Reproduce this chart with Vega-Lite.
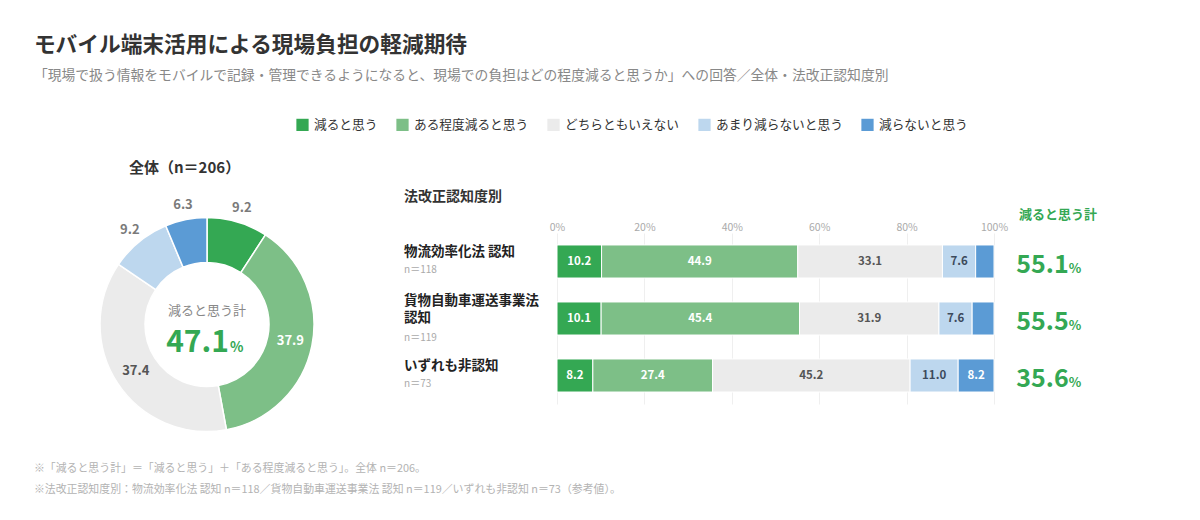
{
  "$schema": "https://vega.github.io/schema/vega-lite/v6.json",
  "background": "white",
  "padding": {"left": 33, "top": 34, "right": 10, "bottom": 10},
  "title": {
    "text": "モバイル端末活用による現場負担の軽減期待",
    "subtitle": "「現場で扱う情報をモバイルで記録・管理できるようになると、現場での負担はどの程度減ると思うか」への回答／全体・法改正認知度別",
    "anchor": "start",
    "frame": "bounds",
    "font": "Noto Sans CJK JP",
    "fontSize": 21.7,
    "fontWeight": "bold",
    "color": "#333333",
    "subtitleFont": "Noto Sans CJK JP",
    "subtitleFontSize": 13.8,
    "subtitleColor": "#888888",
    "subtitlePadding": 13,
    "offset": 35
  },
  "datasets": {
    "donut": [
      {"cat": "減ると思う", "value": 9.2, "order": 1},
      {"cat": "ある程度減ると思う", "value": 37.9, "order": 2},
      {"cat": "どちらともいえない", "value": 37.4, "order": 3},
      {"cat": "あまり減らないと思う", "value": 9.2, "order": 4},
      {"cat": "減らないと思う", "value": 6.3, "order": 5}
    ],
    "summary": [
      {"title": "全体（n＝206）", "label": "減ると思う計", "total": 47.1}
    ],
    "bars": [
      {"group": "物流効率化法 認知", "cat": "減ると思う", "value": 10.2, "order": 1},
      {"group": "物流効率化法 認知", "cat": "ある程度減ると思う", "value": 44.9, "order": 2},
      {"group": "物流効率化法 認知", "cat": "どちらともいえない", "value": 33.1, "order": 3},
      {"group": "物流効率化法 認知", "cat": "あまり減らないと思う", "value": 7.6, "order": 4},
      {"group": "物流効率化法 認知", "cat": "減らないと思う", "value": 4.2, "order": 5},
      {"group": "貨物自動車運送事業法 認知", "cat": "減ると思う", "value": 10.1, "order": 1},
      {"group": "貨物自動車運送事業法 認知", "cat": "ある程度減ると思う", "value": 45.4, "order": 2},
      {"group": "貨物自動車運送事業法 認知", "cat": "どちらともいえない", "value": 31.9, "order": 3},
      {"group": "貨物自動車運送事業法 認知", "cat": "あまり減らないと思う", "value": 7.6, "order": 4},
      {"group": "貨物自動車運送事業法 認知", "cat": "減らないと思う", "value": 5.0, "order": 5},
      {"group": "いずれも非認知", "cat": "減ると思う", "value": 8.2, "order": 1},
      {"group": "いずれも非認知", "cat": "ある程度減ると思う", "value": 27.4, "order": 2},
      {"group": "いずれも非認知", "cat": "どちらともいえない", "value": 45.2, "order": 3},
      {"group": "いずれも非認知", "cat": "あまり減らないと思う", "value": 11.0, "order": 4},
      {"group": "いずれも非認知", "cat": "減らないと思う", "value": 8.2, "order": 5}
    ],
    "groups": [
      {"group": "物流効率化法 認知", "label": "物流効率化法 認知", "label2": "", "n": "n＝118", "total": 55.1},
      {"group": "貨物自動車運送事業法 認知", "label": "貨物自動車運送事業法", "label2": "認知", "n": "n＝119", "total": 55.5},
      {"group": "いずれも非認知", "label": "いずれも非認知", "label2": "", "n": "n＝73", "total": 35.6}
    ],
    "notes": [
      {"heading": "法改正認知度別", "totalHeading": "減ると思う計",
       "note1": "※「減ると思う計」＝「減ると思う」＋「ある程度減ると思う」。全体 n＝206。",
       "note2": "※法改正認知度別：物流効率化法 認知 n＝118／貨物自動車運送事業法 認知 n＝119／いずれも非認知 n＝73（参考値）。"}
    ]
  },
  "bounds": "flush",
  "spacing": 230,
  "hconcat": [
    {
      "width": 240,
      "height": 183,
      "layer": [
        {
          "data": {"name": "donut"},
          "mark": {"type": "arc", "outerRadius": 107, "innerRadius": 62, "stroke": "white", "strokeWidth": 1.5},
          "encoding": {
            "theta": {"field": "value", "type": "quantitative", "stack": true},
            "order": {"field": "order", "type": "quantitative"},
            "color": {
              "field": "cat",
              "type": "nominal",
              "scale": {
                "domain": ["減ると思う", "ある程度減ると思う", "どちらともいえない", "あまり減らないと思う", "減らないと思う"],
                "range": ["#34a853", "#7dbf87", "#ebebeb", "#bdd7ee", "#5b9bd5"]
              },
              "legend": {
                "orient": "none",
                "legendX": 209,
                "legendY": -115,
                "direction": "horizontal",
                "title": null,
                "symbolType": "square",
                "symbolSize": 150,
                "symbolStrokeWidth": 0,
                "labelFont": "Noto Sans CJK JP",
                "labelFontSize": 12.7,
                "labelColor": "#333333",
                "labelOffset": 5,
                "columnPadding": 18
              }
            }
          }
        },
        {
          "data": {"name": "donut"},
          "mark": {"type": "text", "radius": 85, "font": "Noto Sans CJK JP", "fontSize": 13, "fontWeight": "bold"},
          "encoding": {
            "theta": {"field": "value", "type": "quantitative", "stack": true},
            "order": {"field": "order", "type": "quantitative"},
            "text": {"condition": {"test": "datum.value > 20", "field": "value", "format": ".1f"}, "value": ""},
            "color": {"condition": {"test": "datum.cat === 'ある程度減ると思う'", "value": "white"}, "value": "#555555"}
          }
        },
        {
          "data": {"name": "donut"},
          "mark": {"type": "text", "radius": 122, "font": "Noto Sans CJK JP", "fontSize": 13, "fontWeight": "bold", "color": "#7a7a7a"},
          "encoding": {
            "theta": {"field": "value", "type": "quantitative", "stack": true},
            "order": {"field": "order", "type": "quantitative"},
            "text": {"condition": {"test": "datum.value <= 20", "field": "value", "format": ".1f"}, "value": ""}
          }
        },
        {
          "data": {"name": "summary"},
          "mark": {"type": "text", "align": "left", "baseline": "middle", "dx": -78, "dy": -157, "font": "Noto Sans CJK JP", "fontSize": 15, "fontWeight": "bold", "color": "#333333"},
          "encoding": {"text": {"field": "title"}}
        },
        {
          "data": {"name": "summary"},
          "mark": {"type": "text", "align": "center", "baseline": "middle", "dy": -14, "font": "Noto Sans CJK JP", "fontSize": 13, "color": "#888888"},
          "encoding": {"text": {"field": "label"}}
        },
        {
          "data": {"name": "summary"},
          "mark": {"type": "text", "align": "right", "baseline": "alphabetic", "dx": 22, "dy": 27, "font": "Noto Sans CJK JP", "fontSize": 30, "fontWeight": "bold", "color": "#34a853"},
          "encoding": {"text": {"field": "total", "format": ".1f"}}
        },
        {
          "data": {"name": "summary"},
          "mark": {"type": "text", "align": "left", "baseline": "alphabetic", "dx": 23, "dy": 27, "font": "Noto Sans CJK JP", "fontSize": 14, "fontWeight": "bold", "color": "#34a853", "text": "%"},
          "encoding": {}
        }
      ]
    },
    {
      "width": 437,
      "height": 171,
      "layer": [
        {
          "data": {"name": "bars"},
          "transform": [
            {"stack": "value", "groupby": ["group"], "sort": [{"field": "order", "order": "ascending"}], "as": ["x0", "x1"]}
          ],
          "mark": {"type": "bar", "stroke": "white", "strokeWidth": 1},
          "encoding": {
            "y": {
              "field": "group",
              "type": "nominal",
              "scale": {"domain": ["物流効率化法 認知", "貨物自動車運送事業法 認知", "いずれも非認知"], "paddingInner": 0.42, "paddingOuter": 0.21},
              "axis": null
            },
            "x": {
              "field": "x0",
              "type": "quantitative",
              "scale": {"domain": [0, 100], "nice": false},
              "axis": {
                "orient": "top",
                "title": null,
                "values": [0, 20, 40, 60, 80, 100],
                "labelExpr": "datum.value + '%'",
                "labelFlush": false,
                "domain": false,
                "ticks": false,
                "labelFont": "Noto Sans CJK JP",
                "labelFontSize": 10.5,
                "labelColor": "#aaaaaa",
                "labelPadding": 1,
                "grid": true,
                "gridColor": "#efefef"
              }
            },
            "x2": {"field": "x1"},
            "color": {"field": "cat", "type": "nominal"}
          }
        },
        {
          "data": {"name": "bars"},
          "transform": [
            {"stack": "value", "groupby": ["group"], "sort": [{"field": "order", "order": "ascending"}], "as": ["x0", "x1"]},
            {"calculate": "(datum.x0 + datum.x1) / 2", "as": "xm"},
            {"filter": "datum.value >= 6"}
          ],
          "mark": {"type": "text", "font": "Noto Sans CJK JP", "fontSize": 11.5, "fontWeight": "bold", "baseline": "middle"},
          "encoding": {
            "y": {"field": "group", "type": "nominal"},
            "x": {"field": "xm", "type": "quantitative"},
            "text": {"field": "value", "type": "quantitative", "format": ".1f"},
            "color": {
              "condition": [
                {"test": "datum.cat === 'どちらともいえない'", "value": "#555555"},
                {"test": "datum.cat === 'あまり減らないと思う'", "value": "#3c4a5c"}
              ],
              "value": "white"
            }
          }
        },
        {
          "data": {"name": "groups"},
          "mark": {"type": "text", "align": "left", "baseline": "middle", "dy": {"expr": "datum.label2 ? -18 : -10"}, "font": "Noto Sans CJK JP", "fontSize": 13.5, "fontWeight": "bold", "color": "#222222"},
          "encoding": {
            "y": {"field": "group", "type": "nominal"},
            "x": {"datum": -35, "type": "quantitative"},
            "text": {"field": "label"}
          }
        },
        {
          "data": {"name": "groups"},
          "mark": {"type": "text", "align": "left", "baseline": "middle", "dy": -0.5, "font": "Noto Sans CJK JP", "fontSize": 13.5, "fontWeight": "bold", "color": "#222222"},
          "encoding": {
            "y": {"field": "group", "type": "nominal"},
            "x": {"datum": -35, "type": "quantitative"},
            "text": {"field": "label2"}
          }
        },
        {
          "data": {"name": "groups"},
          "mark": {"type": "text", "align": "left", "baseline": "middle", "dy": {"expr": "datum.label2 ? 19.5 : 8.5"}, "font": "Noto Sans CJK JP", "fontSize": 10, "color": "#aaaaaa"},
          "encoding": {
            "y": {"field": "group", "type": "nominal"},
            "x": {"datum": -35, "type": "quantitative"},
            "text": {"field": "n"}
          }
        },
        {
          "data": {"name": "groups"},
          "mark": {"type": "text", "align": "right", "baseline": "alphabetic", "dy": 11, "font": "Noto Sans CJK JP", "fontSize": 25, "fontWeight": "bold", "color": "#34a853"},
          "encoding": {
            "y": {"field": "group", "type": "nominal"},
            "x": {"datum": 117.1, "type": "quantitative"},
            "text": {"field": "total", "type": "quantitative", "format": ".1f"}
          }
        },
        {
          "data": {"name": "groups"},
          "mark": {"type": "text", "align": "left", "baseline": "alphabetic", "dy": 11, "font": "Noto Sans CJK JP", "fontSize": 13, "fontWeight": "bold", "color": "#34a853", "text": "%"},
          "encoding": {
            "y": {"field": "group", "type": "nominal"},
            "x": {"datum": 117.1, "type": "quantitative"}
          }
        },
        {
          "data": {"name": "notes"},
          "mark": {"type": "text", "align": "left", "baseline": "middle", "dy": -65, "font": "Noto Sans CJK JP", "fontSize": 14, "fontWeight": "bold", "color": "#333333"},
          "encoding": {
            "y": {"datum": "物流効率化法 認知"},
            "x": {"datum": -35, "type": "quantitative"},
            "text": {"field": "heading"}
          }
        },
        {
          "data": {"name": "notes"},
          "mark": {"type": "text", "align": "left", "baseline": "middle", "dy": -47, "font": "Noto Sans CJK JP", "fontSize": 13, "fontWeight": "bold", "color": "#34a853"},
          "encoding": {
            "y": {"datum": "物流効率化法 認知"},
            "x": {"datum": 105.7, "type": "quantitative"},
            "text": {"field": "totalHeading"}
          }
        },
        {
          "data": {"name": "notes"},
          "mark": {"type": "text", "align": "left", "baseline": "middle", "dy": 93, "font": "Noto Sans CJK JP", "fontSize": 10.9, "color": "#b3b3b3"},
          "encoding": {
            "y": {"datum": "いずれも非認知"},
            "x": {"datum": -119.7, "type": "quantitative"},
            "text": {"field": "note1"}
          }
        },
        {
          "data": {"name": "notes"},
          "mark": {"type": "text", "align": "left", "baseline": "middle", "dy": 114, "font": "Noto Sans CJK JP", "fontSize": 10.9, "color": "#b3b3b3"},
          "encoding": {
            "y": {"datum": "いずれも非認知"},
            "x": {"datum": -119.7, "type": "quantitative"},
            "text": {"field": "note2"}
          }
        }
      ]
    }
  ],
  "config": {
    "view": {"stroke": null},
    "font": "Noto Sans CJK JP"
  }
}
